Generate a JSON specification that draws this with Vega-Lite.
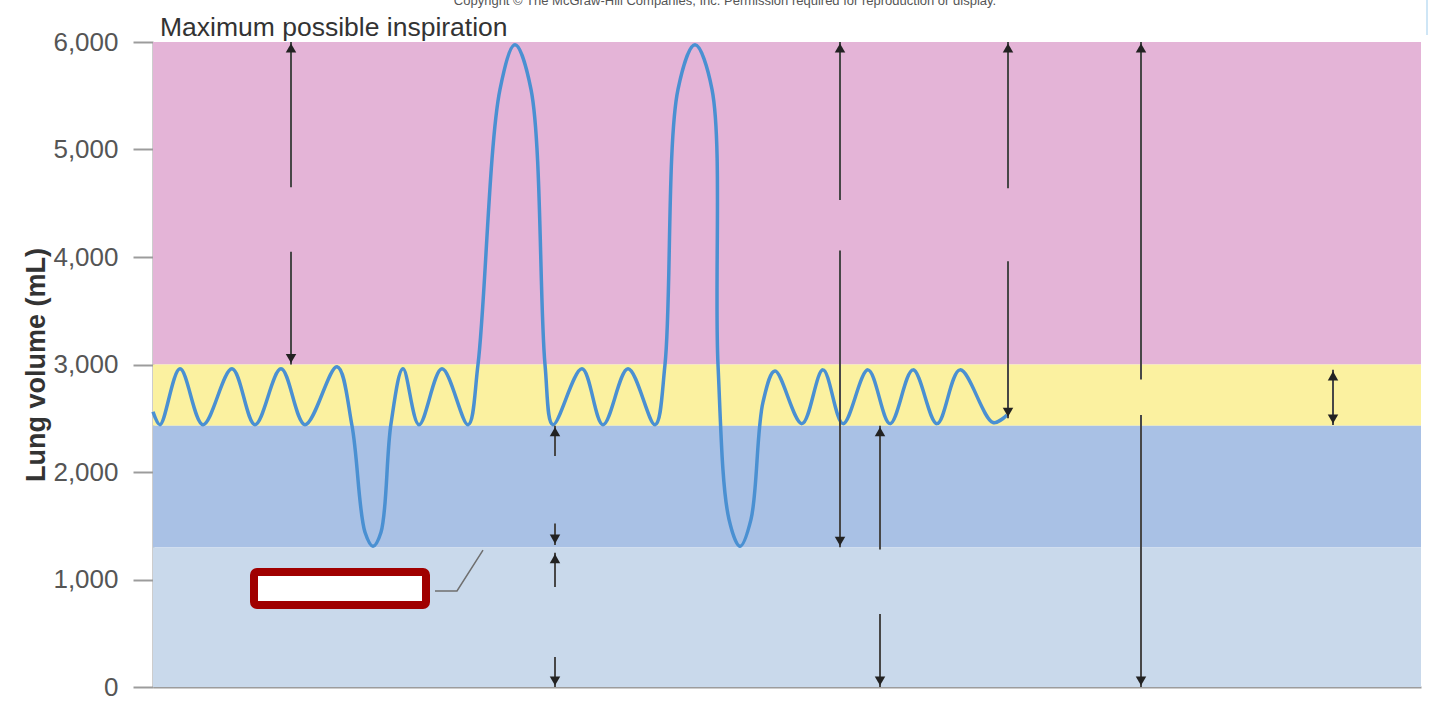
{
  "$schema": "https://vega.github.io/schema/vega-lite/v6.json",
  "width": 1268,
  "height": 645,
  "autosize": {"type": "none"},
  "padding": {"left": 153, "top": 42, "right": 19, "bottom": 18},
  "background": "white",
  "config": {"view": {"stroke": null}, "font": "Liberation Sans"},
  "datasets": {
    "bands": [
      {"band": "Inspiratory reserve", "t": 0, "t2": 1268, "v": 3000, "v2": 6000},
      {"band": "Tidal", "t": 0, "t2": 1268, "v": 2430, "v2": 3000},
      {"band": "Expiratory reserve", "t": 0, "t2": 1268, "v": 1300, "v2": 2430},
      {"band": "Residual", "t": 0, "t2": 1268, "v": 0, "v2": 1300}
    ],
    "curve": [
      {"t": 0, "v": 2560}, {"t": 7, "v": 2440}, {"t": 27, "v": 2960}, {"t": 50, "v": 2440},
      {"t": 79, "v": 2960}, {"t": 102, "v": 2440}, {"t": 128, "v": 2960}, {"t": 152, "v": 2440},
      {"t": 184, "v": 2980}, {"t": 199, "v": 2430}, {"t": 212, "v": 1440},
      {"t": 220, "v": 1310}, {"t": 228, "v": 1440}, {"t": 238, "v": 2450},
      {"t": 250, "v": 2960}, {"t": 266, "v": 2440}, {"t": 289, "v": 2960}, {"t": 315, "v": 2440},
      {"t": 325, "v": 3000}, {"t": 347, "v": 5560},
      {"t": 362, "v": 5975}, {"t": 378, "v": 5560},
      {"t": 392, "v": 3000}, {"t": 400, "v": 2440}, {"t": 429, "v": 2960}, {"t": 450, "v": 2440},
      {"t": 475, "v": 2960}, {"t": 502, "v": 2440}, {"t": 512, "v": 3000},
      {"t": 525, "v": 5560}, {"t": 542, "v": 5975},
      {"t": 559, "v": 5560}, {"t": 565, "v": 3000},
      {"t": 576, "v": 1560}, {"t": 587, "v": 1310}, {"t": 598, "v": 1560},
      {"t": 610, "v": 2650}, {"t": 622, "v": 2940}, {"t": 649, "v": 2450}, {"t": 670, "v": 2950},
      {"t": 690, "v": 2450}, {"t": 715, "v": 2950}, {"t": 737, "v": 2450}, {"t": 760, "v": 2950},
      {"t": 784, "v": 2450}, {"t": 807, "v": 2950}, {"t": 840, "v": 2460}, {"t": 854, "v": 2530}
    ],
    "shafts": [
      {"t": 138, "v": 4650, "v2": 6000}, {"t": 138, "v": 3000, "v2": 4050},
      {"t": 402, "v": 2150, "v2": 2430}, {"t": 402, "v": 1320, "v2": 1520},
      {"t": 402, "v": 930, "v2": 1250}, {"t": 402, "v": 0, "v2": 280},
      {"t": 687, "v": 4530, "v2": 6000}, {"t": 687, "v": 1300, "v2": 4060},
      {"t": 727, "v": 1280, "v2": 2430}, {"t": 727, "v": 0, "v2": 680},
      {"t": 855, "v": 4640, "v2": 6000}, {"t": 855, "v": 2500, "v2": 3960},
      {"t": 988, "v": 2860, "v2": 6000}, {"t": 988, "v": 0, "v2": 2530},
      {"t": 1180, "v": 2437, "v2": 2950}
    ],
    "heads": [
      {"t": 138, "v": 6000, "dir": "up"}, {"t": 138, "v": 3000, "dir": "down"},
      {"t": 402, "v": 2430, "dir": "up"}, {"t": 402, "v": 1320, "dir": "down"},
      {"t": 402, "v": 1250, "dir": "up"}, {"t": 402, "v": 0, "dir": "down"},
      {"t": 687, "v": 6000, "dir": "up"}, {"t": 687, "v": 1300, "dir": "down"},
      {"t": 727, "v": 2430, "dir": "up"}, {"t": 727, "v": 0, "dir": "down"},
      {"t": 855, "v": 6000, "dir": "up"}, {"t": 855, "v": 2500, "dir": "down"},
      {"t": 988, "v": 6000, "dir": "up"}, {"t": 988, "v": 0, "dir": "down"},
      {"t": 1180, "v": 2950, "dir": "up"}, {"t": 1180, "v": 2437, "dir": "down"}
    ],
    "labelbox": [{"t": 101, "t2": 273, "v": 763, "v2": 1070}],
    "leader": [{"t": 282, "v": 893}, {"t": 304, "v": 893}, {"t": 330, "v": 1274}],
    "heading": [{"t": 7, "v": 6056, "label": "Maximum possible inspiration"}],
    "copyright": [{"t": 572, "v": 6340, "label": "Copyright © The McGraw-Hill Companies, Inc. Permission required for reproduction or display."}],
    "edge": [{"t": 1274, "v": 6065, "v2": 6400}]
  },
  "encoding": {
    "x": {
      "field": "t", "type": "quantitative",
      "scale": {"domain": [0, 1268], "nice": false, "zero": false},
      "axis": {"domain": true, "domainColor": "#9c9c9c", "domainWidth": 2, "ticks": false, "labels": false, "grid": false, "title": null}
    },
    "y": {
      "field": "v", "type": "quantitative",
      "scale": {"domain": [0, 6000], "nice": false},
      "axis": {
        "values": [0, 1000, 2000, 3000, 4000, 5000, 6000], "format": ",d", "grid": false,
        "domain": true, "domainColor": "#9c9c9c", "domainWidth": 2,
        "tickColor": "#9c9c9c", "tickSize": 20, "tickWidth": 2,
        "labelPadding": 15, "labelFontSize": 26, "labelColor": "#555555", "labelFont": "Liberation Sans",
        "title": "Lung volume (mL)", "titleFontSize": 27, "titleFontWeight": "bold", "titleColor": "#333333",
        "titleFont": "Liberation Sans", "titleX": -103, "titleBaseline": "bottom"
      }
    }
  },
  "layer": [
    {
      "data": {"name": "bands"},
      "mark": {"type": "rect"},
      "encoding": {
        "x2": {"field": "t2"},
        "y2": {"field": "v2"},
        "color": {
          "field": "band", "type": "nominal", "legend": null,
          "scale": {"domain": ["Inspiratory reserve", "Tidal", "Expiratory reserve", "Residual"], "range": ["#e4b4d7", "#fbf1a0", "#a9c1e5", "#c9d9eb"]}
        }
      }
    },
    {
      "data": {"name": "curve"},
      "mark": {"type": "line", "interpolate": "catmull-rom", "color": "#4a90d2", "strokeWidth": 3.5},
      "encoding": {}
    },
    {
      "data": {"name": "shafts"},
      "mark": {"type": "rule", "color": "#474747", "strokeWidth": 2},
      "encoding": {"y2": {"field": "v2"}}
    },
    {
      "data": {"name": "heads"},
      "transform": [{"filter": "datum.dir === 'up'"}],
      "mark": {"type": "point", "shape": "triangle-up", "filled": true, "size": 110, "color": "#222222", "opacity": 1, "yOffset": 6},
      "encoding": {}
    },
    {
      "data": {"name": "heads"},
      "transform": [{"filter": "datum.dir === 'down'"}],
      "mark": {"type": "point", "shape": "triangle-down", "filled": true, "size": 110, "color": "#222222", "opacity": 1, "yOffset": -6},
      "encoding": {}
    },
    {
      "data": {"name": "leader"},
      "mark": {"type": "line", "color": "#6f6f6f", "strokeWidth": 1.5},
      "encoding": {}
    },
    {
      "data": {"name": "labelbox"},
      "mark": {"type": "rect", "fill": "#ffffff", "stroke": "#a00000", "strokeWidth": 8, "cornerRadius": 3},
      "encoding": {"x2": {"field": "t2"}, "y2": {"field": "v2"}}
    },
    {
      "data": {"name": "heading"},
      "mark": {"type": "text", "align": "left", "baseline": "alphabetic", "fontSize": 26.5, "color": "#333333", "font": "Liberation Sans"},
      "encoding": {"text": {"field": "label"}}
    },
    {
      "data": {"name": "copyright"},
      "mark": {"type": "text", "align": "center", "baseline": "alphabetic", "fontSize": 13, "color": "#555555", "font": "Liberation Sans"},
      "encoding": {"text": {"field": "label"}}
    },
    {
      "data": {"name": "edge"},
      "mark": {"type": "rule", "color": "#cfe6f6", "strokeWidth": 2},
      "encoding": {"y2": {"field": "v2"}}
    }
  ]
}
